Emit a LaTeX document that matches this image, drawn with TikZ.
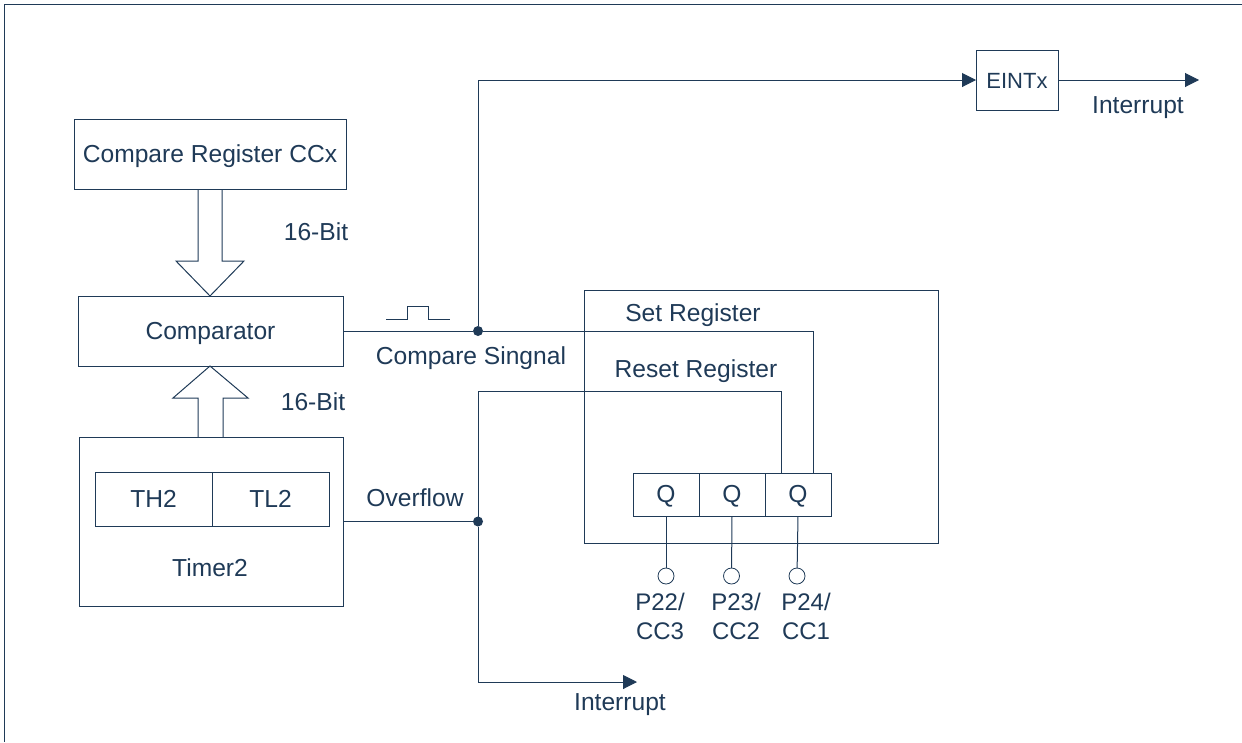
\documentclass[tikz,border=0pt]{standalone}
\usepackage{fontspec}
\setmainfont{Liberation Sans}
\usetikzlibrary{arrows.meta}
\definecolor{ink}{HTML}{1F3A57}
\tikzset{
  x=1pt,y=-1pt,
  every node/.style={text=ink,font=\fontsize{24.6}{28}\selectfont,inner sep=0pt,outer sep=0pt},
  lbl/.style={text height=17pt,text depth=1pt},
  box/.style={draw=ink,line width=1pt,lbl},
  wire/.style={draw=ink,line width=1pt},
  arrowwire/.style={wire,-{Triangle[length=14pt,width=14pt]}},
  joint/.style={circle,fill=ink,minimum size=10pt},
  pin/.style={circle,draw=ink,line width=0.8pt,minimum size=16pt},
  pinlbl/.style={lbl,font=\fontsize{24}{28}\selectfont},
}
\begin{document}
\begin{tikzpicture}
\useasboundingbox (0,0) rectangle (1242,742);
\draw[wire] (1242,4) -- (4,4) -- (4,742);
% boxes
\node[box,minimum width=272pt,minimum height=70pt] (ccx) at (210,154) {Compare Register CCx};
\node[box,minimum width=265pt,minimum height=70pt] (cmp) at (210.5,331) {Comparator};
\node[box,minimum width=264pt,minimum height=169pt] (timer) at (211,521.5) {};
\node[box,minimum width=117pt,minimum height=54pt] (th) at (153.5,499) {TH2};
\node[box,minimum width=117pt,minimum height=54pt] (tl) at (270.5,499) {TL2};
\node[lbl] (timerlbl) at (210,568) {Timer2};
\node[box,minimum width=354pt,minimum height=253pt] (reg) at (761,416.5) {};
\node[box,minimum width=66pt,minimum height=43pt] (q1) at (666,494.5) {Q};
\node[box,minimum width=66pt,minimum height=43pt] (q2) at (732,494.5) {Q};
\node[box,minimum width=66pt,minimum height=43pt] (q3) at (798,494.5) {Q};
\node[box,minimum width=82pt,minimum height=60pt,font=\fontsize{22}{26}\selectfont] (eint) at (1017,80) {EINTx};
% block arrows
\draw[wire] (198,189) -- (198,261) -- (176,261) -- (210,296) -- (244,261) -- (222,261) -- (222,189);
\draw[wire] (198,437) -- (198,398) -- (173,398) -- (210,366) -- (248,398) -- (223,398) -- (223,437);
% joints and free ends
\node[joint] (d1) at (478,331) {};
\node[joint] (d2) at (478,521.5) {};
\coordinate (setin) at (813,473);
\coordinate (rstin) at (781,473);
\coordinate (rstcorner) at (478,391);
\coordinate (intend) at (637,682);
\coordinate (eintout) at (1199,80);
% connectors
\draw[wire] (cmp.east) -- (d1);
\draw[wire] (d1) -- (d1 -| setin) -- (setin);
\draw[arrowwire] (d1) |- (eint.west);
\draw[arrowwire] (eint.east) -- (eintout);
\draw[wire] (timer.east) -- (d2);
\draw[wire] (d2) -- (rstcorner) -| (rstin);
\draw[arrowwire] (d2) |- (intend);
% pulse
\coordinate (p0) at (386,319);
\coordinate (p1) at (407,306);
\coordinate (p2) at (428,319);
\coordinate (p3) at (450,319);
\draw[draw=ink,line width=0.8pt] (p0) -| (p1) -| (p2) -- (p3);
% pins
\node[pin] (c1) at (666,576) {};
\node[pin] (c2) at (731.5,576) {};
\node[pin] (c3) at (797,576) {};
\draw[wire] (q1.south) -- (c1);
\draw[wire] (q2.south) -- (c2);
\draw[wire] (q3.south) -- (c3);
% labels
\node[lbl] (b1) at (316,232) {16-Bit};
\node[lbl] (b2) at (313,402) {16-Bit};
\node[lbl] (cs) at (471,356) {Compare Singnal};
\node[lbl] (setl) at (693,313) {Set Register};
\node[lbl] (rstl) at (696,369) {Reset Register};
\node[lbl] (ovf) at (415,498) {Overflow};
\node[lbl] (i1) at (1138,105) {Interrupt};
\node[lbl] (i2) at (620,702) {Interrupt};
\node[pinlbl] (p22) at (660,602) {P22/};
\node[pinlbl] (p23) at (736,602) {P23/};
\node[pinlbl] (p24) at (806,602) {P24/};
\node[pinlbl] (cc3) at (660,631) {CC3};
\node[pinlbl] (cc2) at (736,631) {CC2};
\node[pinlbl] (cc1) at (806,631) {CC1};
\end{tikzpicture}
\end{document}
